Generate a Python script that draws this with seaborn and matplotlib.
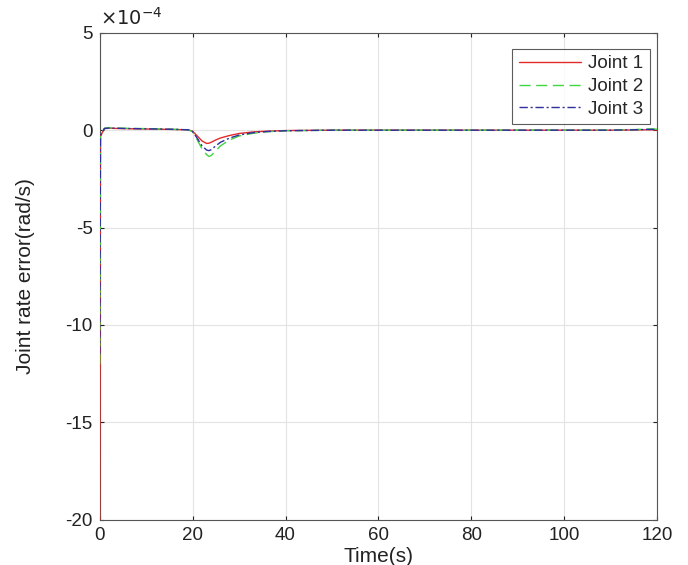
import numpy as np
import pandas as pd
import seaborn as sns
import matplotlib
matplotlib.use('Agg')
import matplotlib.pyplot as plt

# data (values in units of 1e-4 rad/s)
time = [0, 0.15, 1, 2, 5, 10, 15, 19, 20, 21, 22, 23, 23.5, 24, 25, 26, 28,
        30, 33, 36, 40, 50, 60, 80, 100, 110, 115, 118, 119, 120]
joint1 = [-20, -0.3, 0.08, 0.1, 0.08, 0.06, 0.04, 0.02, -0.05, -0.3, -0.55, -0.68, -0.67,
          -0.62, -0.5, -0.4, -0.27, -0.17, -0.09, -0.05, -0.02, 0, 0, 0, 0,
          0, 0.01, 0.02, 0.02, 0.01]
joint2 = [-12, -0.3, 0.1, 0.12, 0.1, 0.08, 0.05, 0.02, -0.08, -0.5, -0.95, -1.25, -1.35,
          -1.3, -1.05, -0.8, -0.5, -0.3, -0.16, -0.08, -0.03, 0, 0, 0, 0,
          0.01, 0.03, 0.06, 0.07, 0.05]
joint3 = [-11.5, -0.3, 0.09, 0.11, 0.09, 0.07, 0.05, 0.02, -0.07, -0.42, -0.8, -1.02, -1.05,
          -1.0, -0.8, -0.62, -0.4, -0.25, -0.13, -0.07, -0.03, 0, 0, 0, 0,
          0, 0.02, 0.04, 0.04, 0.03]
series = ['Joint 1', 'Joint 2', 'Joint 3']
colors = ['#e22a2a', '#3fd63f', '#2e2e9e']
styles = ['-', (0, (8, 4)), (0, (6, 2, 1.5, 2))]

df = pd.DataFrame({'time': time, 'Joint 1': joint1, 'Joint 2': joint2, 'Joint 3': joint3})

sns.set_style('white')
plt.rcParams['font.family'] = ['Liberation Sans', 'DejaVu Sans']
plt.rcParams['axes.unicode_minus'] = False

fig = plt.figure(figsize=(6.88, 5.65), dpi=100)
ax = fig.add_axes([0.145, 0.080, 0.81, 0.862])

# later series on top, like matlab
for name, c, ls, z in zip(series, colors, styles, [3, 4, 5]):
    sns.lineplot(data=df, x='time', y=name, ax=ax, color=c, linestyle=ls,
                 linewidth=1.0, label=name, zorder=z)

ax.set_xlim(0, 120)
ax.set_ylim(-20, 5)
ax.set_xticks([0, 20, 40, 60, 80, 100, 120])
ax.set_yticks([-20, -15, -10, -5, 0, 5])
ax.grid(True, color='#e3e3e3', linewidth=0.8)
ax.set_axisbelow(True)
for s in ax.spines.values():
    s.set_color('#555555')
    s.set_linewidth(0.8)
    s.set_zorder(2)
ax.tick_params(direction='in', length=3, labelsize=13.5, colors='#222222',
               top=True, right=True, bottom=True, left=True, pad=5)
ax.set_xlabel('Time(s)', fontsize=15, color='#222222', labelpad=2)
ax.set_ylabel('Joint rate error(rad/s)', fontsize=15, color='#222222', labelpad=22)
ax.text(0.0, 1.008, r'$\times10^{-4}$', transform=ax.transAxes, fontsize=14,
        ha='left', va='bottom', color='#222222')

leg = ax.legend(loc='upper right', bbox_to_anchor=(0.994, 0.975), fontsize=13.5,
                frameon=True, fancybox=False, handlelength=3.3, borderpad=0.35,
                labelspacing=0.3, handletextpad=0.4, borderaxespad=0.2)
leg.get_frame().set_edgecolor('#333333')
leg.get_frame().set_linewidth(0.8)
leg.set_zorder(10)

fig.savefig('out.png', dpi=100)
